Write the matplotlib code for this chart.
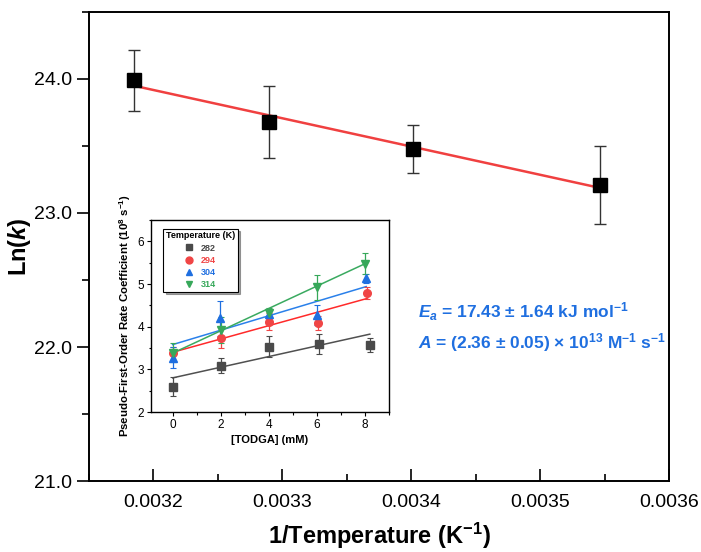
import numpy as np
import matplotlib

matplotlib.use("Agg")
import matplotlib.pyplot as plt
from matplotlib.lines import Line2D
from matplotlib.ticker import FormatStrFormatter, MultipleLocator

plt.rcParams["font.family"] = ["Liberation Sans", "DejaVu Sans"]
plt.rcParams["mathtext.fontset"] = "custom"
plt.rcParams["mathtext.rm"] = "Liberation Sans:bold"
plt.rcParams["mathtext.it"] = "Liberation Sans:bold:italic"
plt.rcParams["mathtext.bf"] = "Liberation Sans:bold"

# Arrhenius data
temperatures_k = [314, 304, 294, 282]
ln_k = [23.99, 23.68, 23.48, 23.21]
ln_k_err = [0.23, 0.27, 0.18, 0.29]

# inset: rate coefficient vs [TODGA]
inset_labels = ["282", "294", "304", "314"]
inset_x = [
    [0.0, 2.0, 4.0, 6.1, 8.2],
    [0.0, 2.0, 4.0, 6.05, 8.1],
    [0.0, 1.95, 4.0, 6.0, 8.05],
    [0.0, 2.0, 4.0, 6.0, 8.0],
]
inset_y = [
    [2.59, 3.09, 3.53, 3.59, 3.57],
    [3.38, 3.73, 4.12, 4.08, 4.79],
    [3.27, 4.20, 4.30, 4.27, 5.13],
    [3.39, 3.92, 4.33, 4.92, 5.48],
]
inset_err = [
    [0.22, 0.17, 0.25, 0.24, 0.17],
    [0.15, 0.24, 0.20, 0.16, 0.15],
    [0.25, 0.41, 0.12, 0.24, 0.10],
    [0.22, 0.30, 0.10, 0.30, 0.25],
]
fit_intercept = [2.80, 3.40, 3.58, 3.38]
fit_slope = [0.125, 0.156, 0.169, 0.262]

marker_colors = ["#4a4a4a", "#f04545", "#1f6fe0", "#37a85a"]
line_colors = ["#505050", "#ff2a2a", "#2a80ea", "#3aaa60"]
markers = ["s", "o", "^", "v"]

fig = plt.figure(figsize=(7.01, 5.52), dpi=100)
ax = fig.add_axes([0.127, 0.1286, 0.8274, 0.8497])

inv_t = 1.0 / np.asarray(temperatures_k, dtype=float)
slope, intercept = np.polyfit(inv_t, ln_k, 1)
ax.plot(inv_t, slope * inv_t + intercept, color="#f04040", lw=1.8, zorder=2)
ax.errorbar(
    inv_t, ln_k, yerr=ln_k_err, fmt="s", color="black", ms=9.5,
    ecolor="#333333", elinewidth=1.0, capsize=4.5, capthick=1.0, zorder=3,
)

ax.set_xlim(0.00315, 0.0036)
ax.set_ylim(21.0, 24.5)
ax.xaxis.set_major_locator(MultipleLocator(0.0001))
ax.xaxis.set_minor_locator(MultipleLocator(0.00005))
ax.yaxis.set_major_locator(MultipleLocator(1.0))
ax.yaxis.set_minor_locator(MultipleLocator(0.5))
ax.xaxis.set_major_formatter(FormatStrFormatter("%.4f"))
ax.yaxis.set_major_formatter(FormatStrFormatter("%.1f"))
ax.tick_params(axis="x", which="major", direction="in", length=9, width=1.2, labelsize=14, pad=9)
ax.tick_params(axis="x", which="minor", direction="in", length=5, width=1.2)
ax.tick_params(axis="y", which="major", direction="out", length=9, width=1.2, labelsize=14, pad=3)
ax.tick_params(axis="y", which="minor", direction="out", length=5, width=1.2)
for spine in ax.spines.values():
    spine.set_linewidth(1.4)

ax.set_xlabel("1/Temperature (K$^{-1}$)", fontsize=17, fontweight="bold")
ax.set_ylabel("Ln($\\mathit{k}$)", fontsize=17, fontweight="bold")
ax.xaxis.set_label_coords(0.5, -0.085)
ax.yaxis.set_label_coords(-0.096, 0.5)

ax.text(0.567, 0.360, "$\\mathit{E}_{\\mathit{a}}$ = 17.43 ± 1.64 kJ mol$^{-1}$",
        transform=ax.transAxes, color="#1f6fe0", fontsize=12.5, fontweight="bold", va="center")
ax.text(0.567, 0.296, "$\\mathit{A}$ = (2.36 ± 0.05) × 10$^{13}$ M$^{-1}$ s$^{-1}$",
        transform=ax.transAxes, color="#1f6fe0", fontsize=12.5, fontweight="bold", va="center")

# inset
ins = fig.add_axes([0.2154, 0.2536, 0.3396, 0.3478])
handles = []
for xs, ys, es, b, m, lab, mc, lc, mk in zip(
    inset_x, inset_y, inset_err, fit_intercept, fit_slope,
    inset_labels, marker_colors, line_colors, markers,
):
    xs = np.asarray(xs)
    x_line = np.array([0.0, xs.max()])
    ins.plot(x_line, b + m * x_line, color=lc, lw=1.1, zorder=2)
    ins.errorbar(
        xs, ys, yerr=es, fmt=mk, color=mc, ms=5.5, elinewidth=0.9,
        capsize=2, capthick=0.8, zorder=3,
    )
    handles.append(Line2D([], [], ls="none", marker=mk, color=mc, ms=5, label=lab))

ins.set_xlim(-0.9, 9.0)
ins.set_ylim(2.0, 6.5)
ins.xaxis.set_major_locator(MultipleLocator(2))
ins.xaxis.set_minor_locator(MultipleLocator(1))
ins.yaxis.set_major_locator(MultipleLocator(1))
ins.yaxis.set_minor_locator(MultipleLocator(0.5))
ins.tick_params(which="major", direction="out", length=3, width=0.8, labelsize=8.5, pad=2)
ins.tick_params(which="minor", direction="out", length=1.8, width=0.8)
for spine in ins.spines.values():
    spine.set_linewidth(1.0)
ins.set_xlabel("[TODGA] (mM)", fontsize=8, fontweight="bold")
ins.set_ylabel("Pseudo-First-Order Rate Coefficient (10$^{8}$ s$^{-1}$)",
               fontsize=8.2, fontweight="bold")
ins.xaxis.set_label_coords(0.5, -0.12)
ins.yaxis.set_label_coords(-0.076, 0.5)

leg = ins.legend(
    handles=handles, title="Temperature (K)", loc="upper left",
    bbox_to_anchor=(0.05, 0.955),
    fontsize=6.5, title_fontsize=6.5, frameon=True, fancybox=False, shadow=True,
    handlelength=1.0, handletextpad=0.9, borderpad=0.3, labelspacing=0.35,
    borderaxespad=0.0,
)
leg.get_title().set_fontweight("bold")
leg.get_frame().set_edgecolor("black")
leg.get_frame().set_linewidth(0.8)
for text, c in zip(leg.get_texts(), marker_colors):
    text.set_color(c)
    text.set_fontweight("bold")

fig.savefig("out.png", dpi=100)
